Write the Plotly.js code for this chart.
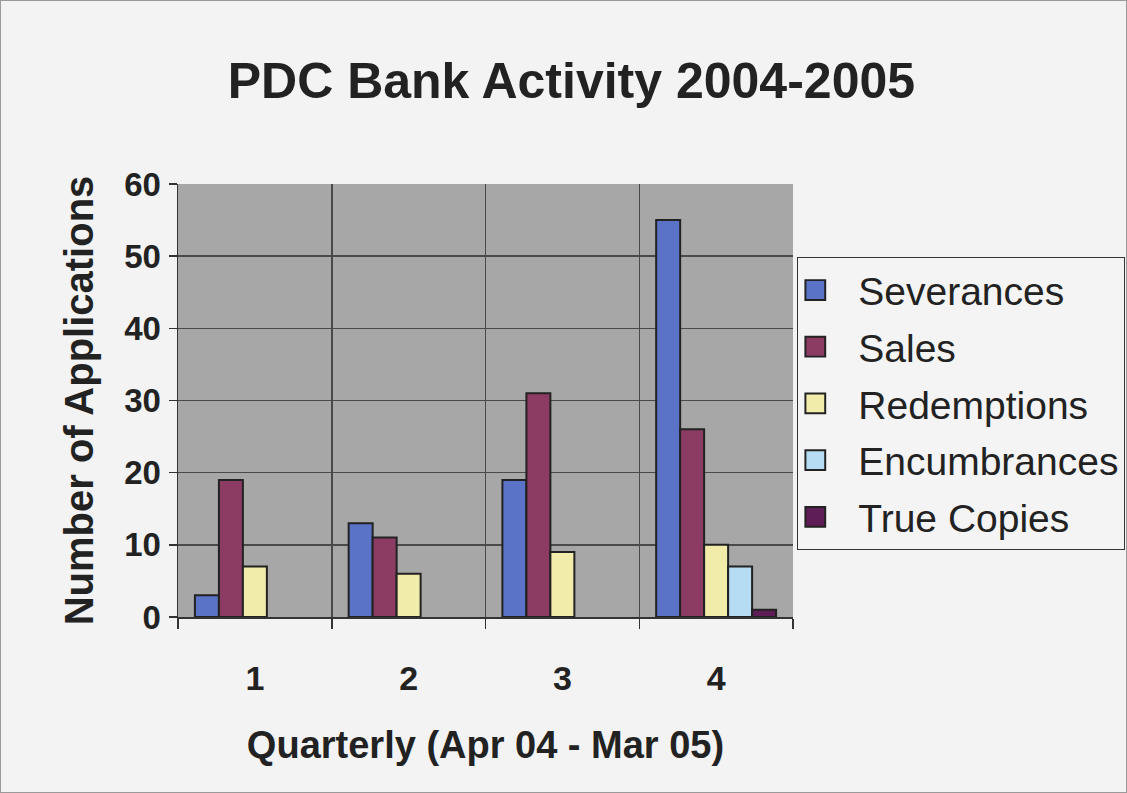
<!DOCTYPE html>
<html>
<head>
<meta charset="utf-8">
<script src="https://cdn.plot.ly/plotly-3.0.1.min.js"></script>
<style>
  html, body { margin: 0; padding: 0; background: #f3f3f3; }
  #chart { width: 1127px; height: 793px; box-sizing: border-box; border: 1px solid #9a9a9a; }
</style>
</head>
<body>
<div id="chart"></div>
<script>
const quarters = ['1', '2', '3', '4'];
const seriesNames = ['Severances', 'Sales', 'Redemptions', 'Encumbrances', 'True Copies'];
const severances = [3, 13, 19, 55];
const sales = [19, 11, 31, 26];
const redemptions = [7, 6, 9, 10];
const encumbrances = [0, 0, 0, 7];
const trueCopies = [0, 0, 0, 1];
const yTicks = [0, 10, 20, 30, 40, 50, 60];

const seriesValues = [severances, sales, redemptions, encumbrances, trueCopies];
const seriesColors = ['#5b73c6', '#8c3b63', '#f1ecaa', '#b6dcf3', '#5e1d56'];

// Excel draws nothing for a zero value, so zero bars are left empty
const traces = seriesNames.map((name, i) => ({
  type: 'bar',
  name: name,
  x: quarters,
  y: seriesValues[i].map(v => (v === 0 ? null : v)),
  legendgroup: 'g' + i,
  marker: {
    color: seriesColors[i],
    line: { color: '#222222', width: 2 }
  },
  hoverinfo: 'x+y+name'
}));

const fontFam = 'Liberation Sans, Arial, sans-serif';

const layout = {
  width: 1125,
  height: 791,
  paper_bgcolor: '#f3f3f3',
  plot_bgcolor: '#a7a7a7',
  margin: { l: 177, r: 333, t: 183, b: 175, autoexpand: false },
  barmode: 'group',
  bargap: 0.22,
  bargroupgap: 0,
  title: {
    text: 'PDC Bank Activity 2004-2005',
    font: { family: fontFam, size: 50, color: '#222222', weight: 'bold' },
    x: 0.507, xanchor: 'center',
    y: 0.9, yref: 'container', yanchor: 'middle'
  },
  xaxis: {
    type: 'category',
    categoryorder: 'array',
    categoryarray: quarters,
    tickson: 'boundaries',
    ticks: 'outside',
    ticklen: 10,
    tickwidth: 1.5,
    tickcolor: '#333333',
    ticklabelstandoff: 31,
    showgrid: true,
    gridcolor: '#4a4a4a',
    gridwidth: 1.5,
    showline: true,
    linecolor: '#333333',
    linewidth: 1.5,
    tickfont: { family: fontFam, size: 34, color: '#222222', weight: 'bold' },
    title: {
      text: 'Quarterly (Apr 04 - Mar 05)',
      font: { family: fontFam, size: 38, color: '#222222', weight: 'bold' },
      standoff: 35
    },
    automargin: false,
    fixedrange: true
  },
  yaxis: {
    range: [0, 60],
    tickvals: yTicks,
    ticktext: yTicks.map(String),
    ticks: 'outside',
    ticklen: 8,
    tickwidth: 1.5,
    tickcolor: '#333333',
    ticklabelstandoff: 1,
    showgrid: true,
    gridcolor: '#4a4a4a',
    gridwidth: 1.5,
    zeroline: false,
    showline: true,
    linecolor: '#333333',
    linewidth: 1.5,
    tickfont: { family: fontFam, size: 33, color: '#222222', weight: 'bold' },
    title: {
      text: 'Number of Applications',
      font: { family: fontFam, size: 40, color: '#222222', weight: 'bold' },
      standoff: 18
    },
    automargin: false,
    fixedrange: true
  },
  showlegend: true,
  legend: {
    x: 1.007, xanchor: 'left',
    y: 0.831, yanchor: 'top',
    bgcolor: '#f4f4f4',
    bordercolor: '#333333',
    borderwidth: 1,
    font: { family: fontFam, size: 39, color: '#222222' },
    traceorder: 'grouped',
    tracegroupgap: 3,
    itemwidth: 50
  }
};

Plotly.newPlot('chart', traces, layout, { displayModeBar: false, staticPlot: true }).then(gd => {
  // enlarge the legend swatches to match the larger Excel-style squares
  gd.querySelectorAll('.legend .legendpoints path').forEach(p => {
    p.setAttribute('transform', 'translate(17,0) scale(1.65)');
    p.style.strokeWidth = '1.2px';
  });
});
</script>
</body>
</html>
